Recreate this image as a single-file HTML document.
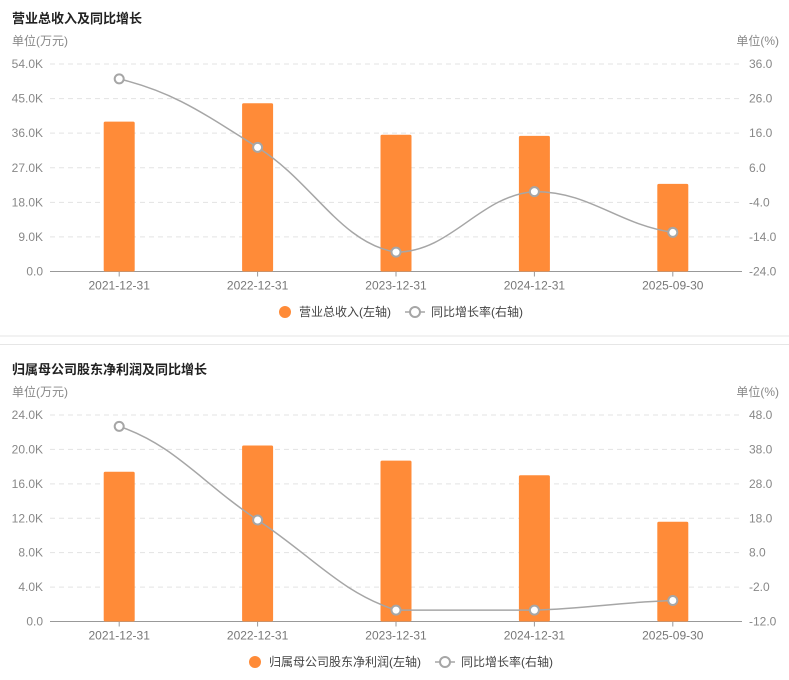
<!DOCTYPE html>
<html><head><meta charset="utf-8"><style>
body{margin:0;background:#fff;width:789px;height:680px;overflow:hidden;font-family:"Liberation Sans","Noto Sans CJK SC",sans-serif}
svg{position:absolute;left:0;top:0}
</style></head><body>
<svg id="s" width="789" height="680" xmlns="http://www.w3.org/2000/svg"></svg>
<script>
const categories=["2021-12-31","2022-12-31","2023-12-31","2024-12-31","2025-09-30"];
const revenue=[39.0,43.8,35.6,35.3,22.8];
const revenueGrowth=[31.7,11.9,-18.4,-0.9,-12.7];
const revTicksL=["0.0","9.0K","18.0K","27.0K","36.0K","45.0K","54.0K"];
const revTicksR=["-24.0","-14.0","-4.0","6.0","16.0","26.0","36.0"];
const profit=[17.4,20.45,18.7,17.0,11.6];
const profitGrowth=[44.7,17.5,-8.7,-8.7,-5.9];
const profTicksL=["0.0","4.0K","8.0K","12.0K","16.0K","20.0K","24.0K"];
const profTicksR=["-12.0","-2.0","8.0","18.0","28.0","38.0","48.0"];

const svg=document.getElementById('s');
const NS="http://www.w3.org/2000/svg";
function mk(tag,attrs,name,parent){const e=document.createElementNS(NS,tag);for(const k in attrs)e.setAttribute(k,attrs[k]);


(parent||svg).appendChild(e);return e;}
function txt(x,y,s,size,fill,anchor,name,weight){const t=mk('text',{x:x,y:y,'font-size':size,fill:fill,'text-anchor':anchor||'start','font-weight':weight||'normal'},name);t.textContent=s;return t;}

function chart(o){
  const L=50,R=742,top=o.top,bot=o.bot,H=bot-top;
  const step=(R-L)/categories.length;
  const x=i=>L+step*(i+0.5);
  const yl=v=>bot-(v-o.lmin)/(o.lmax-o.lmin)*H;
  const yr=v=>bot-(v-o.rmin)/(o.rmax-o.rmin)*H;
  txt(12,o.top-41,o.title,13,'#222','start','chart-title','bold');
  txt(12,o.top-19,'单位(万元)',12,'#888','start','left-axis-unit');
  txt(779,o.top-19,'单位(%)',12,'#888','end','right-axis-unit');
  for(let i=0;i<o.tl.length;i++){
    const yy=top+H*(o.tl.length-1-i)/(o.tl.length-1);
    if(i>0) mk('line',{x1:L,x2:R,y1:yy,y2:yy,stroke:'#e3e3e3','stroke-dasharray':'5,4'},'gridline');
    txt(43,yy+4,o.tl[i],12,'#888','end','left-tick-label');
    txt(749,yy+4,o.tr[i],12,'#888','start','right-tick-label');
  }
  mk('line',{x1:L,x2:R,y1:bot,y2:bot,stroke:'#999'},'x-axis-line');
  categories.forEach((c,i)=>{
    mk('line',{x1:x(i),x2:x(i),y1:bot,y2:bot+5,stroke:'#999'},'x-tick');
    txt(x(i),bot+18,c,12,'#777','middle','x-tick-label');
    const by=yl(o.bars[i]);
    mk('rect',{x:x(i)-15.5,y:by,width:31,height:bot-by,fill:'#ff8b38',rx:1.5},'bar-'+c);
  });
  const p=o.line.map((v,i)=>[x(i),yr(v)]);
  let d='M'+p[0][0]+','+p[0][1];
  for(let i=0;i<p.length-1;i++){
    const p0=p[Math.max(0,i-1)],p1=p[i],p2=p[i+1],p3=p[Math.min(p.length-1,i+2)];
    const s=0.2;
    let c1y=p1[1]+(p2[1]-p0[1])*s, c2y=p2[1]-(p3[1]-p1[1])*s;
    const mn=Math.min(p1[1],p2[1]),mx=Math.max(p1[1],p2[1]);
    c1y=Math.max(mn,Math.min(mx,c1y));c2y=Math.max(mn,Math.min(mx,c2y));
    d+=' C'+(p1[0]+step*0.4)+','+c1y+' '+(p2[0]-step*0.4)+','+c2y+' '+p2[0]+','+p2[1];
  }
  mk('path',{d:d,fill:'none',stroke:'#a6a6a6','stroke-width':1.5},'growth-line');
  p.forEach((q,i)=>mk('circle',{cx:q[0],cy:q[1],r:4.5,fill:'#fff',stroke:'#a6a6a6','stroke-width':2},'growth-point-'+categories[i]));
  const ly=o.legY;
  mk('circle',{cx:o.legX,cy:ly,r:6,fill:'#ff8b38'},'legend-bar-marker');
  txt(o.legX+14,ly+4,o.legBar,12,'#444','start','legend-bar-label');
  const lx2=o.legX+o.legW;
  mk('line',{x1:lx2,x2:lx2+20,y1:ly,y2:ly,stroke:'#a6a6a6','stroke-width':1.5},'legend-line-marker');
  mk('circle',{cx:lx2+10,cy:ly,r:5,fill:'#fff',stroke:'#a6a6a6','stroke-width':2},'legend-line-dot');
  txt(lx2+26,ly+4,'同比增长率(右轴)',12,'#444','start','legend-line-label');
}
chart({title:'营业总收入及同比增长',top:64,bot:271.5,lmin:0,lmax:54,rmin:-24,rmax:36,tl:revTicksL,tr:revTicksR,bars:revenue,line:revenueGrowth,legY:312,legX:285,legW:120,legBar:'营业总收入(左轴)'});
chart({title:'归属母公司股东净利润及同比增长',top:415,bot:621.5,lmin:0,lmax:24,rmin:-12,rmax:48,tl:profTicksL,tr:profTicksR,bars:profit,line:profitGrowth,legY:662,legX:255,legW:180,legBar:'归属母公司股东净利润(左轴)'});
mk('line',{x1:0,x2:789,y1:336,y2:336,stroke:'#e6e6e6'},'card-divider');
mk('line',{x1:0,x2:789,y1:344.5,y2:344.5,stroke:'#e6e6e6'},'card-divider');
</script>
</body></html>
